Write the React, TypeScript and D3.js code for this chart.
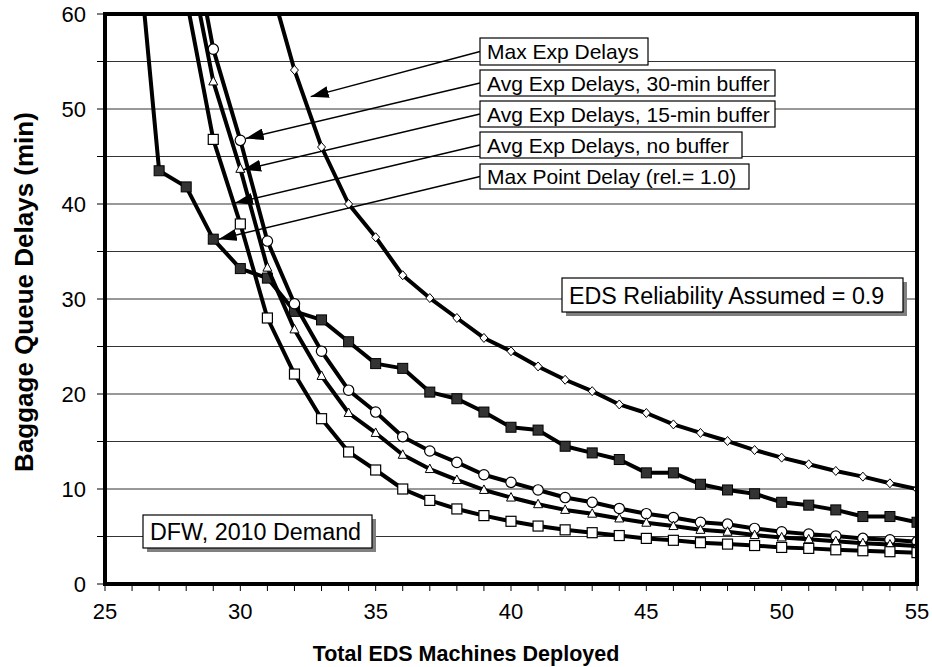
import React from "react";
import * as d3 from "d3";

const X_MAX_POINT = [26, 27, 28, 29, 30, 31, 32, 33, 34, 35, 36, 37, 38, 39, 40, 41, 42, 43, 44, 45, 46, 47, 48, 49, 50, 51, 52, 53, 54, 55];
const MAX_POINT = [74, 43.5, 41.8, 36.3, 33.2, 32.2, 28.7, 27.8, 25.5, 23.2, 22.7, 20.2, 19.5, 18.1, 16.5, 16.2, 14.5, 13.8, 13.1, 11.7, 11.7, 10.5, 9.9, 9.5, 8.6, 8.3, 7.8, 7.1, 7.1, 6.5];

const X_AVG = [28, 29, 30, 31, 32, 33, 34, 35, 36, 37, 38, 39, 40, 41, 42, 43, 44, 45, 46, 47, 48, 49, 50, 51, 52, 53, 54, 55];
const AVG_NO_BUFFER = [61.7, 46.8, 37.9, 28.0, 22.1, 17.4, 13.9, 12.0, 10.0, 8.8, 7.9, 7.2, 6.6, 6.1, 5.7, 5.4, 5.1, 4.8, 4.6, 4.35, 4.2, 4.05, 3.85, 3.75, 3.6, 3.5, 3.4, 3.3];
const AVG_15 = [67.3, 52.9, 43.7, 33.3, 26.8, 21.9, 18.0, 15.9, 13.6, 12.1, 10.95, 9.9, 9.1, 8.4, 7.8, 7.4, 6.9, 6.45, 6.1, 5.7, 5.5, 5.15, 4.9, 4.7, 4.5, 4.3, 4.15, 4.0];
const AVG_30 = [71.5, 56.3, 46.7, 36.1, 29.5, 24.5, 20.4, 18.1, 15.5, 14.0, 12.8, 11.5, 10.7, 9.9, 9.1, 8.6, 7.95, 7.4, 7.0, 6.5, 6.3, 5.85, 5.5, 5.25, 5.05, 4.8, 4.65, 4.45];

const X_MAX_EXP = [31, 32, 33, 34, 35, 36, 37, 38, 39, 40, 41, 42, 43, 44, 45, 46, 47, 48, 49, 50, 51, 52, 53, 54, 55];
const MAX_EXP = [64.2, 54.1, 46.0, 40.0, 36.5, 32.5, 30.1, 28.0, 25.9, 24.5, 22.9, 21.5, 20.3, 18.9, 18.0, 16.8, 15.9, 15.05, 14.1, 13.3, 12.6, 11.9, 11.3, 10.6, 10.0];

const X_TICKS = [25, 30, 35, 40, 45, 50, 55];
const Y_TICKS = [0, 10, 20, 30, 40, 50, 60];
const GRID_Y = [5, 10, 15, 20, 25, 30, 35, 40, 45, 50, 55];
const MINOR_X = d3.range(25, 56, 1);
const MINOR_Y = d3.range(0, 61, 5);

const CALLOUT_LABELS = [
  "Max Exp Delays",
  "Avg Exp Delays, 30-min buffer",
  "Avg Exp Delays, 15-min buffer",
  "Avg Exp Delays, no buffer",
  "Max Point Delay (rel.= 1.0)",
];
// arrow targets in data units (x machines, y minutes)
const CALLOUT_TARGET_X = [32.6, 30.2, 30.1, 29.8, 29.2];
const CALLOUT_TARGET_Y = [51.3, 46.9, 43.6, 40.1, 36.3];

const W = 932;
const H = 667;
const FONT = "'Liberation Sans', Arial, sans-serif";

export default function App() {
  const x = d3.scaleLinear().domain([25, 55]).range([105, 917]);
  const y = d3.scaleLinear().domain([0, 60]).range([584, 14]);
  const line = d3
    .line<[number, number]>()
    .x((d) => x(d[0]))
    .y((d) => y(d[1]));

  const series = [
    { xs: X_MAX_EXP, ys: MAX_EXP, marker: "diamond" },
    { xs: X_MAX_POINT, ys: MAX_POINT, marker: "filledSquare" },
    { xs: X_AVG, ys: AVG_30, marker: "circle" },
    { xs: X_AVG, ys: AVG_15, marker: "triangle" },
    { xs: X_AVG, ys: AVG_NO_BUFFER, marker: "openSquare" },
  ];

  const renderMarker = (m: string, cx: number, cy: number, key: string) => {
    if (m === "diamond") {
      return (
        <path key={key} d={`M${cx},${cy - 4.5}L${cx + 4},${cy}L${cx},${cy + 4.5}L${cx - 4},${cy}Z`} fill="#fff" stroke="#000" strokeWidth={1} />
      );
    }
    if (m === "circle") {
      return <circle key={key} cx={cx} cy={cy} r={5.2} fill="#fff" stroke="#000" strokeWidth={1.2} />;
    }
    if (m === "triangle") {
      return (
        <path key={key} d={`M${cx},${cy - 5}L${cx + 4.5},${cy + 3.5}L${cx - 4.5},${cy + 3.5}Z`} fill="#fff" stroke="#000" strokeWidth={1} />
      );
    }
    if (m === "openSquare") {
      return <rect key={key} x={cx - 5} y={cy - 5} width={10} height={10} fill="#fff" stroke="#000" strokeWidth={1.2} />;
    }
    return <rect key={key} x={cx - 5} y={cy - 5} width={10} height={10} fill="#333" stroke="#000" strokeWidth={1} />;
  };

  const boxes = [
    { x: 480, y: 38, w: 168, h: 27 },
    { x: 480, y: 70, w: 295, h: 26 },
    { x: 480, y: 101, w: 295, h: 26 },
    { x: 480, y: 132, w: 262, h: 26 },
    { x: 480, y: 164, w: 269, h: 25 },
  ];

  return (
    <div style={{ position: "absolute", left: 0, top: 0 }}>
      <svg width={W} height={H} style={{ display: "block", background: "#fff" }} fontFamily={FONT}>
        <defs>
          <clipPath id="plotClip">
            <rect x={105} y={14} width={812} height={570} />
          </clipPath>
          <marker id="arrow" viewBox="0 0 18 12" refX={18} refY={6} markerWidth={18} markerHeight={12} markerUnits="userSpaceOnUse" orient="auto">
            <path d="M0,0L18,6L0,12Z" fill="#000" />
          </marker>
        </defs>
        {GRID_Y.map((v) => (
          <line key={"g" + v} x1={105} x2={917} y1={y(v)} y2={y(v)} stroke="#333" strokeWidth={1} />
        ))}
        <g clipPath="url(#plotClip)">
          {series.map((s, i) => (
            <g key={"s" + i}>
              <path d={line(s.xs.map((xv, j) => [xv, s.ys[j]] as [number, number])) || ""} fill="none" stroke="#000" strokeWidth={4} strokeLinejoin="round" />
              {s.xs.map((xv, j) => renderMarker(s.marker, x(xv), y(s.ys[j]), `m${i}-${j}`))}
            </g>
          ))}
        </g>
        <rect x={105} y={14} width={812} height={570} fill="none" stroke="#000" strokeWidth={4} />
        {MINOR_X.map((v) => (
          <line key={"xt" + v} x1={x(v)} x2={x(v)} y1={584} y2={591} stroke="#000" strokeWidth={1} />
        ))}
        {MINOR_Y.map((v) => (
          <line key={"yt" + v} x1={97} x2={105} y1={y(v)} y2={y(v)} stroke="#000" strokeWidth={1} />
        ))}
        {X_TICKS.map((v) => (
          <text key={"xl" + v} x={x(v)} y={619} fontSize={22} textAnchor="middle" fill="#000">
            {v}
          </text>
        ))}
        {Y_TICKS.map((v) => (
          <text key={"yl" + v} x={86} y={y(v) + 8} fontSize={22} textAnchor="end" fill="#000">
            {v}
          </text>
        ))}
        <text x={466} y={661} fontSize={21.5} fontWeight="bold" textAnchor="middle">
          Total EDS Machines Deployed
        </text>
        <text transform="translate(33,292) rotate(-90)" fontSize={26} fontWeight="bold" textAnchor="middle">
          Baggage Queue Delays (min)
        </text>
        {CALLOUT_LABELS.map((label, i) => {
          const b = boxes[i];
          return (
            <g key={"c" + i}>
              <line x1={b.x} y1={b.y + b.h / 2} x2={x(CALLOUT_TARGET_X[i])} y2={y(CALLOUT_TARGET_Y[i])} stroke="#000" strokeWidth={1.5} markerEnd="url(#arrow)" />
              <rect x={b.x} y={b.y} width={b.w} height={b.h} fill="#fff" stroke="#000" strokeWidth={1.2} />
              <text x={b.x + 7} y={b.y + b.h / 2 + 7.5} fontSize={21}>
                {label}
              </text>
            </g>
          );
        })}
        <rect x={566} y={282} width={341} height={34} fill="#808080" />
        <rect x={562} y={278} width={341} height={34} fill="#fff" stroke="#000" strokeWidth={1.2} />
        <text x={569} y={303.5} fontSize={23.3}>
          EDS Reliability Assumed = 0.9
        </text>
        <rect x={147} y={519} width={229} height={33} fill="#808080" />
        <rect x={143} y={515} width={229} height={33} fill="#fff" stroke="#000" strokeWidth={1.2} />
        <text x={150} y={540} fontSize={23.3}>
          DFW, 2010 Demand
        </text>
      </svg>
    </div>
  );
}
